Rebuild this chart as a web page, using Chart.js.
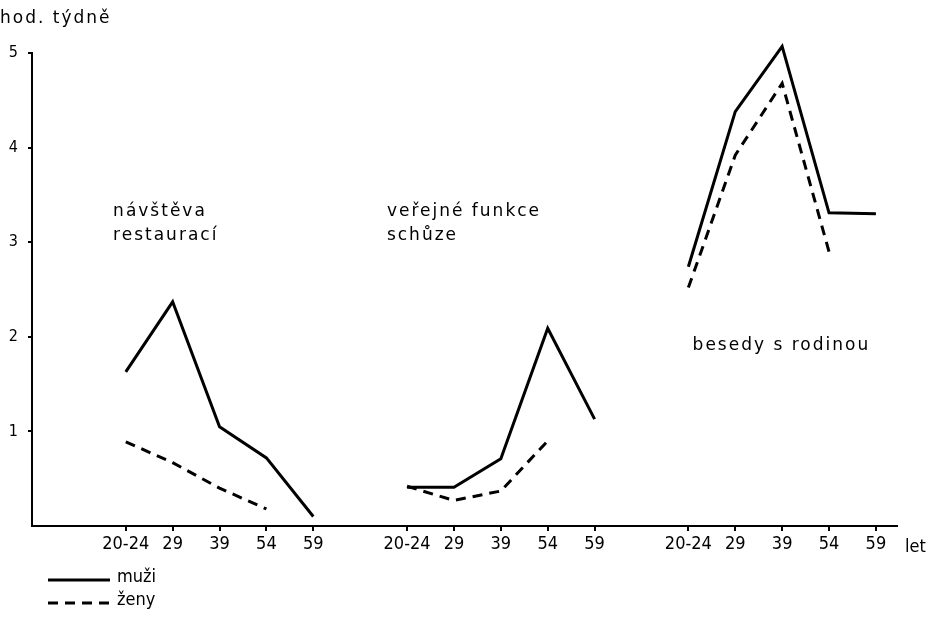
<!DOCTYPE html>
<html>
<head>
<meta charset="utf-8">
<script src="https://cdn.jsdelivr.net/npm/chart.js@4.4.1/dist/chart.umd.min.js"></script>
<style>
	html, body { margin: 0; padding: 0; background: #fff; }
	#wrap { width: 929px; height: 635px; }
</style>
</head>
<body>
<div id="wrap"><canvas id="myChart" width="929" height="635"></canvas></div>
<script>
// age groups, repeated for each activity
var ages = ['20-24', '29', '39', '54', '59'];
var yTicks = [1, 2, 3, 4, 5];

// hours per week
var muziRestaurace = [1.63, 2.37, 1.05, 0.72, 0.10];
var zenyRestaurace = [0.89, 0.67, 0.40, 0.18];
var muziFunkce = [0.41, 0.41, 0.71, 2.09, 1.13];
var zenyFunkce = [0.42, 0.27, 0.37, 0.90];
var muziRodina = [2.74, 4.38, 5.07, 3.31, 3.30];
var zenyRodina = [2.52, 3.92, 4.68, 2.90];

var groupTitles = [['návštěva', 'restaurací'], ['veřejné funkce', 'schůze'], ['besedy s rodinou']];
var muziGroups = [muziRestaurace, muziFunkce, muziRodina];
var zenyGroups = [zenyRestaurace, zenyFunkce, zenyRodina];

var slotsPerGroup = ages.length + 1; // one empty slot between groups

// x slot of an age inside a group
function slot(g, i) { return g * slotsPerGroup + i; }

function points(values, g) {
	var out = [];
	for (var i = 0; i < values.length; i++) {
		out.push({ x: slot(g, i), y: values[i] });
	}
	return out;
}

var tickSlots = [], tickLabels = {};
for (var g = 0; g < 3; g++) {
	for (var i = 0; i < ages.length; i++) {
		tickSlots.push(slot(g, i));
		tickLabels[slot(g, i)] = ages[i];
	}
}

var datasets = [];
for (var g = 0; g < 3; g++) {
	datasets.push({
		label: 'muži',
		data: points(muziGroups[g], g),
		borderColor: '#000',
		borderWidth: 3,
		pointRadius: 0,
		tension: 0,
		clip: false
	});
	datasets.push({
		label: 'ženy',
		data: points(zenyGroups[g], g),
		borderColor: '#000',
		borderWidth: 3,
		borderDash: [10, 7],
		pointRadius: 0,
		tension: 0,
		clip: false
	});
}

var condFamily = '"DejaVu Sans Condensed", "Liberation Sans Narrow", sans-serif';
var textFont = '17px "DejaVu Sans"';
var condFont = '18px ' + condFamily;

// texts in the plot and the legend under it
var extras = {
	id: 'extras',
	afterDraw: function (chart) {
		var ctx = chart.ctx;
		var xs = chart.scales.x, ys = chart.scales.y;
		ctx.save();
		ctx.fillStyle = '#000';
		ctx.textBaseline = 'middle';
		ctx.textAlign = 'left';
		ctx.font = textFont;
		ctx.letterSpacing = '2px';

		ctx.fillText('hod. týdně', 0, 19);

		var titleAt = [[-0.27, 3.32], [5.57, 3.32], [12.09, 1.91]];
		for (var g = 0; g < groupTitles.length; g++) {
			for (var l = 0; l < groupTitles[g].length; l++) {
				var px = xs.getPixelForValue(titleAt[g][0]);
				var py = ys.getPixelForValue(titleAt[g][1]) + l * 24;
				ctx.fillText(groupTitles[g][l], px, py);
			}
		}

		ctx.letterSpacing = '0px';
		ctx.font = condFont;
		ctx.fillText('let', xs.right + 8, xs.top + 21);

		// legend
		var rows = [datasets[0], datasets[1]];
		for (var r = 0; r < rows.length; r++) {
			var ly = 580 + r * 23;
			ctx.beginPath();
			ctx.lineWidth = 3;
			ctx.strokeStyle = '#000';
			ctx.setLineDash(rows[r].borderDash || []);
			ctx.moveTo(48, ly);
			ctx.lineTo(110, ly);
			ctx.stroke();
			ctx.setLineDash([]);
			ctx.fillText(rows[r].label, 117, ly - 3);
		}
		ctx.restore();
	}
};

var myLineChart = new Chart(document.getElementById('myChart'), {
	type: 'line',
	data: { datasets: datasets },
	plugins: [extras],
	options: {
		responsive: false,
		animation: false,
		devicePixelRatio: 1,
		layout: { padding: { top: 53, right: 32, bottom: 69, left: 0 } },
		plugins: { legend: { display: false }, tooltip: { enabled: false } },
		scales: {
			x: {
				type: 'linear',
				min: -2,
				max: 16.45,
				afterBuildTicks: function (scale) {
					scale.ticks = tickSlots.map(function (v) { return { value: v }; });
				},
				afterFit: function (scale) { scale.height = 40; },
				ticks: {
					autoSkip: false,
					maxRotation: 0,
					color: '#000',
					font: { family: condFamily, size: 18 },
					padding: 3,
					callback: function (v) { return tickLabels[v] || ''; }
				},
				grid: { drawOnChartArea: false, color: '#000', tickLength: 5, lineWidth: 2 },
				border: { color: '#000', width: 2 }
			},
			y: {
				min: 0,
				max: 5,
				afterBuildTicks: function (scale) {
					scale.ticks = yTicks.map(function (v) { return { value: v }; });
				},
				afterFit: function (scale) { scale.width = 32; },
				ticks: {
					color: '#000',
					font: { family: condFamily, size: 16 },
					padding: 10
				},
				grid: { drawOnChartArea: false, color: '#000', tickLength: 4, lineWidth: 2 },
				border: { color: '#000', width: 2 }
			}
		}
	}
});
</script>
</body>
</html>
